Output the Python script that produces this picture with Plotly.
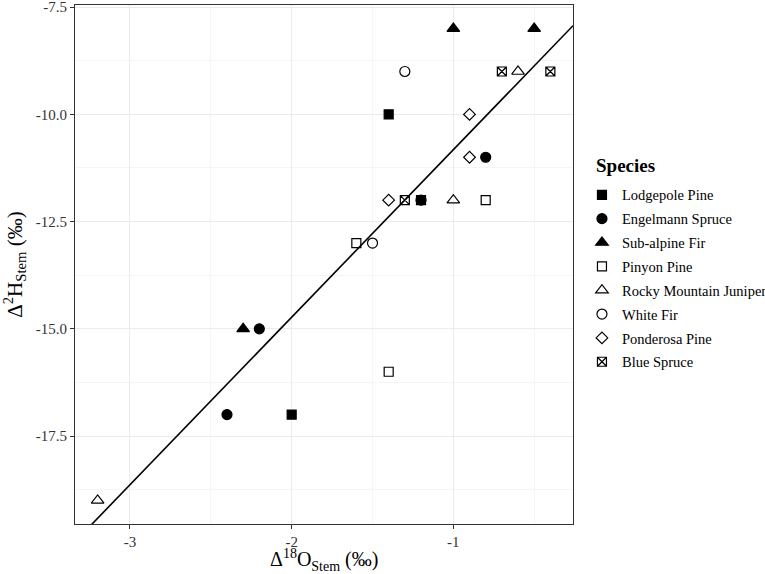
import numpy as np
import plotly.graph_objects as go

species = ["Lodgepole Pine", "Engelmann Spruce", "Sub-alpine Fir", "Pinyon Pine",
           "Rocky Mountain Juniper", "White Fir", "Ponderosa Pine", "Blue Spruce"]
x_lodgepole = [-1.4, -1.2, -2.0]
y_lodgepole = [-10, -12, -17]
x_engelmann = [-0.8, -1.2, -2.2, -2.4]
y_engelmann = [-11, -12, -15, -17]
x_subalpine = [-1.0, -0.5, -2.3]
y_subalpine = [-8, -8, -15]
x_pinyon = [-0.8, -1.6, -1.4]
y_pinyon = [-12, -13, -16]
x_juniper = [-1.0, -0.6, -3.2]
y_juniper = [-12, -9, -19]
x_whitefir = [-1.3, -1.5]
y_whitefir = [-9, -13]
x_ponderosa = [-0.9, -0.9, -1.4]
y_ponderosa = [-10, -11, -12]
x_bluespruce = [-0.7, -0.4, -1.3]
y_bluespruce = [-9, -9, -12]

x_ticks = [-3, -2, -1]
x_ticklabels = ["-3", "-2", "-1"]
y_ticks = [-17.5, -15, -12.5, -10, -7.5]
y_ticklabels = ["-17.5", "-15.0", "-12.5", "-10.0", "-7.5"]

xs = [x_lodgepole, x_engelmann, x_subalpine, x_pinyon, x_juniper, x_whitefir, x_ponderosa, x_bluespruce]
ys = [y_lodgepole, y_engelmann, y_subalpine, y_pinyon, y_juniper, y_whitefir, y_ponderosa, y_bluespruce]
symbols = ["square", "circle", "triangle-up", "square-open", "triangle-up-open",
           "circle-open", "diamond-open", "square-x-open"]
sizes = [9, 10, 11, 9, 11, 10, 9, 9]

xrange = [-3.34, -0.26]
yrange = [-19.55, -7.45]

FONT = "Liberation Serif"
fig = go.Figure()

all_x = np.concatenate([np.array(a, float) for a in xs])
all_y = np.concatenate([np.array(a, float) for a in ys])
slope, intercept = np.polyfit(all_x, all_y, 1)
lx = np.array(xrange)
fig.add_trace(go.Scatter(x=lx, y=slope * lx + intercept, mode="lines",
                         line=dict(color="black", width=1.6), showlegend=False,
                         hoverinfo="skip"))

for name, xx, yy, sym, sz in zip(species, xs, ys, symbols, sizes):
    fig.add_trace(go.Scatter(
        x=xx, y=yy, mode="markers", name=name, legendgroup=name,
        marker=dict(symbol=sym, size=sz, color="black",
                    line=dict(color="black", width=1.2)),
    ))

axis_common = dict(
    showline=True, linecolor="#333333", linewidth=1.2, mirror=True,
    ticks="outside", ticklen=4, tickcolor="#333333", tickwidth=1,
    showgrid=True, gridcolor="#EBEBEB", gridwidth=1, zeroline=False,
    tickfont=dict(family=FONT, size=15, color="#333333"),
    automargin=False, ticklabeloverflow="allow",
)

fig.update_layout(
    width=765, height=574,
    margin=dict(l=75, r=192, t=5, b=50, autoexpand=False),
    paper_bgcolor="white", plot_bgcolor="white",
    font=dict(family=FONT, size=15, color="black"),
    xaxis=dict(range=xrange, tickvals=x_ticks, ticktext=x_ticklabels,
               minor=dict(showgrid=True, gridcolor="#F5F5F5", gridwidth=0.8,
                          ticks="", dtick=0.5, tick0=-3.5),
               **axis_common),
    yaxis=dict(range=yrange, tickvals=y_ticks, ticktext=y_ticklabels,
               title=dict(text="Δ<sup>2</sup>H<sub>Stem</sub> (‰)",
                          font=dict(family=FONT, size=21)),
               minor=dict(showgrid=True, gridcolor="#F5F5F5", gridwidth=0.8,
                          ticks="", dtick=1.25, tick0=-8.75),
               **axis_common),
    legend=dict(x=1.018, xanchor="left", y=0.665, yanchor="top",
                font=dict(family=FONT, size=14.5, color="black"),
                tracegroupgap=2, itemwidth=30, bgcolor="rgba(0,0,0,0)"),
    annotations=[
        dict(text="<b>Species</b>", xref="paper", yref="paper",
             x=1.043, y=1 - (166 - 5) / 519, xanchor="left", yanchor="middle",
             showarrow=False, font=dict(family=FONT, size=19, color="black")),
        dict(text="Δ<sup>18</sup>O<sub>Stem</sub> (‰)", xref="paper", yref="paper",
             x=0.5, y=-(560 - 524) / 519, xanchor="center", yanchor="middle",
             showarrow=False, font=dict(family=FONT, size=20, color="black")),
    ],
)

fig.write_html("out.html", config={"displayModeBar": False},
               post_script="document.body.style.margin='0';")
